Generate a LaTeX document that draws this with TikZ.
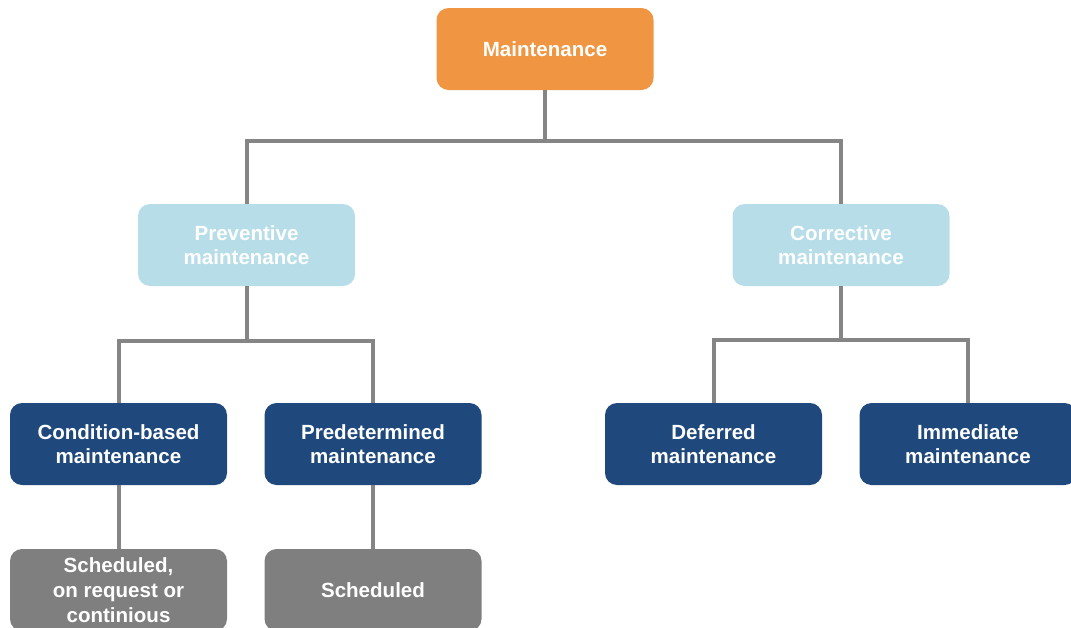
\documentclass[tikz,border=0pt]{standalone}
\usepackage{fontspec}
\setmainfont{Liberation Sans}
\definecolor{orangebox}{HTML}{F09642}
\definecolor{lightbox}{HTML}{B7DEE8}
\definecolor{darkbox}{HTML}{1F497D}
\definecolor{graybox}{HTML}{7F7F7F}
\definecolor{linegray}{HTML}{858585}
\begin{document}
\begin{tikzpicture}[x=0.75pt,y=-0.75pt,
  box/.style={rounded corners=9pt, minimum width=162.75pt, minimum height=61.5pt,
    inner sep=2pt, align=center, text=white,
    font=\fontsize{15.4}{18.5}\selectfont\bfseries},
  topbox/.style={box, fill=orangebox},
  lvl1/.style={box, fill=lightbox},
  lvl2/.style={box, fill=darkbox},
  lvl3/.style={box, fill=graybox},
  conn/.style={draw=linegray, line width=3pt}]
\useasboundingbox (0,0) rectangle (1071,628);
\clip (0,0) rectangle (1071,628);
\node[topbox] (m) at (545,49) {Maintenance};
\node[lvl1] (pv) at (246.5,245) {Preventive\\maintenance};
\node[lvl1] (cv) at (841,245) {Corrective\\maintenance};
\node[lvl2] (cb) at (118.5,444) {Condition-based\\maintenance};
\node[lvl2] (pd) at (373,444) {Predetermined\\maintenance};
\node[lvl2] (df) at (713.5,444) {Deferred\\maintenance};
\node[lvl2] (im) at (968,444) {Immediate\\maintenance};
\node[lvl3] (s1) at (118.5,590) {Scheduled,\\on request or\\continious};
\node[lvl3] (s2) at (373,590) {Scheduled};
\coordinate (j1) at (545,141);
\coordinate (j2) at (246.5,341);
\coordinate (j3) at (841,340);
\draw[conn] (m.south) -- (j1);
\draw[conn] (pv.north) |- (j1) -| (cv.north);
\draw[conn] (pv.south) -- (j2);
\draw[conn] (cb.north) |- (j2) -| (pd.north);
\draw[conn] (cv.south) -- (j3);
\draw[conn] (df.north) |- (j3) -| (im.north);
\draw[conn] (cb.south) -- (s1.north);
\draw[conn] (pd.south) -- (s2.north);
\end{tikzpicture}
\end{document}
